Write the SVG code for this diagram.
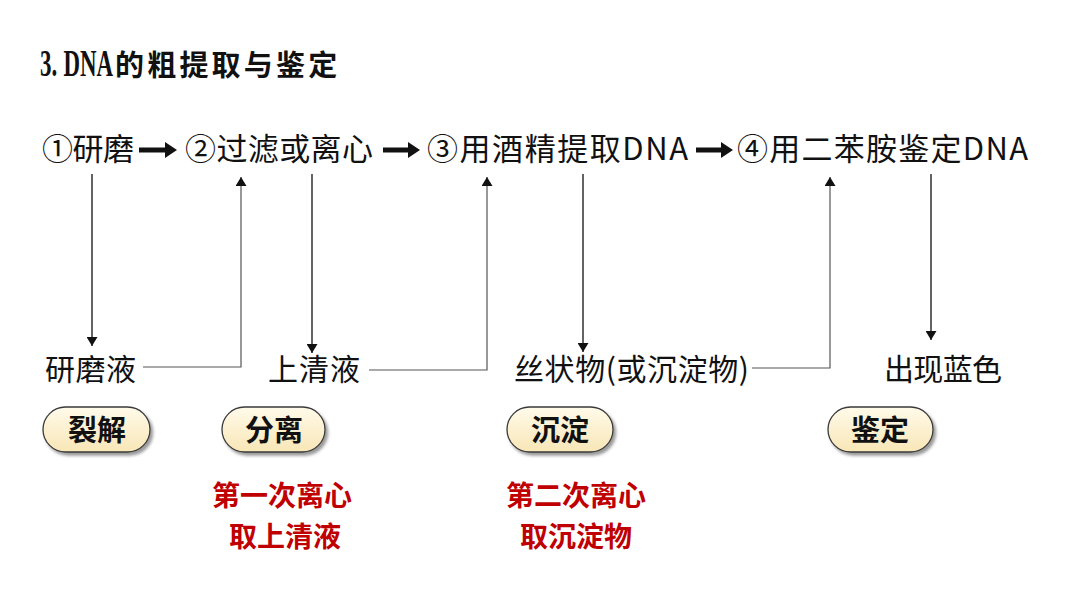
<svg xmlns="http://www.w3.org/2000/svg" width="1080" height="608" viewBox="0 0 1080 608">
<defs>
<style>
.main{font-family:"Noto Sans CJK SC","Noto Sans",sans-serif;font-size:31px;fill:#111;}
.sub{font-family:"Noto Sans CJK SC","Noto Sans",sans-serif;font-size:30px;fill:#111;}
.pilltxt{font-family:"Noto Sans CJK SC",sans-serif;font-size:29px;font-weight:bold;fill:#111;text-anchor:middle;}
.red{font-family:"Noto Sans CJK SC",sans-serif;font-size:28px;font-weight:bold;fill:#c00000;text-anchor:middle;}
.pill{fill:url(#pg);stroke:#3a3a3a;stroke-width:1.3;filter:url(#sh);}
.conn{fill:none;stroke:#222;stroke-width:1.4;}
.conn2{fill:none;stroke:#555;stroke-width:1.2;}
.bigarrow{fill:#111;}
</style>
<linearGradient id="pg" x1="0" y1="0" x2="0" y2="1">
<stop offset="0" stop-color="#fffaea"/>
<stop offset="1" stop-color="#f8e6b6"/>
</linearGradient>
<filter id="sh" x="-20%" y="-30%" width="150%" height="170%">
<feDropShadow dx="2.5" dy="3" stdDeviation="1.5" flood-color="#000" flood-opacity="0.4"/>
</filter>
<marker id="ah" viewBox="0 0 10 10" refX="10" refY="5" markerWidth="9" markerHeight="11" markerUnits="userSpaceOnUse" orient="auto" preserveAspectRatio="none">
<path d="M0,0 L10,5 L0,10 z" fill="#111"/>
</marker>
</defs>
<rect width="1080" height="608" fill="#fff"/>

<g id="title">
<text transform="translate(40,76) scale(0.62,1)" font-family="Liberation Serif,serif" font-size="37" font-weight="bold" fill="#111">3.<tspan dx="10">DNA</tspan></text>
<text x="115" y="76" font-family="Noto Sans CJK SC,sans-serif" font-size="29" font-weight="bold" letter-spacing="3.2" fill="#111">的粗提取与鉴定</text>
</g>

<g id="step1"><text class="main" x="42" y="160" textLength="92">①研磨</text></g>
<g id="step2"><text class="main" x="185" y="160" textLength="188">②过滤或离心</text></g>
<g id="step3"><text class="main" x="427" y="160" textLength="261">③用酒精提取DNA</text></g>
<g id="step4"><text class="main" x="737" y="160" textLength="291">④用二苯胺鉴定DNA</text></g>

<g id="result1"><text class="sub" x="45" y="380" textLength="91">研磨液</text></g>
<g id="result2"><text class="sub" x="268" y="380" textLength="92">上清液</text></g>
<g id="result3"><text class="sub" x="514" y="380" textLength="235">丝状物(或沉淀物)</text></g>
<g id="result4"><text class="sub" x="884" y="380" textLength="118">出现蓝色</text></g>

<g id="pill1"><rect class="pill" x="43" y="407" width="107" height="45" rx="22.5"/><text class="pilltxt" x="97" y="441">裂解</text></g>
<g id="pill2"><rect class="pill" x="222" y="407" width="103" height="45" rx="22.5"/><text class="pilltxt" x="274" y="441">分离</text></g>
<g id="pill3"><rect class="pill" x="507" y="407" width="106" height="45" rx="22.5"/><text class="pilltxt" x="560" y="441">沉淀</text></g>
<g id="pill4"><rect class="pill" x="828" y="407" width="105" height="45" rx="22.5"/><text class="pilltxt" x="880" y="441">鉴定</text></g>

<g id="note1"><text class="red" x="282" y="506">第一次离心</text><text class="red" x="285" y="547">取上清液</text></g>
<g id="note2"><text class="red" x="576" y="506">第二次离心</text><text class="red" x="576" y="547">取沉淀物</text></g>

<g id="connectors">
<g class="bigarrow">
<path d="M139,147.5 H165 V142 L177,150 L165,158 V152.5 H139 z"/>
<path d="M383,147.5 H408 V142 L420,150 L408,158 V152.5 H383 z"/>
<path d="M696,147.5 H721 V142 L733,150 L721,158 V152.5 H696 z"/>
</g>
<line class="conn" x1="92" y1="174" x2="92" y2="346" marker-end="url(#ah)"/>
<line class="conn" x1="312" y1="174" x2="312" y2="353" marker-end="url(#ah)"/>
<line class="conn" x1="583" y1="174" x2="583" y2="352" marker-end="url(#ah)"/>
<line class="conn" x1="931" y1="174" x2="931" y2="340" marker-end="url(#ah)"/>
<path class="conn2" d="M143,367 H241 V177" marker-end="url(#ah)"/>
<path class="conn2" d="M369,370 H487 V177" marker-end="url(#ah)"/>
<path class="conn2" d="M752,368 H830 V177" marker-end="url(#ah)"/>
</g>
</svg>
